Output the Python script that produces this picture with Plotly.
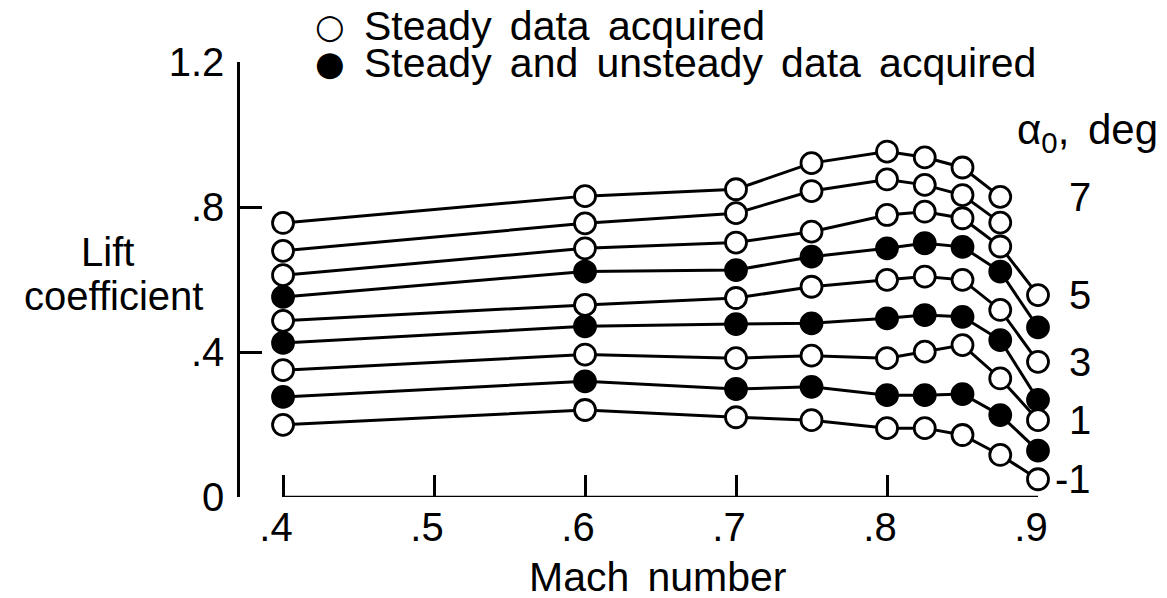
import plotly.graph_objects as go

# ---- data ----
mach = [0.4, 0.6, 0.7, 0.75, 0.8, 0.825, 0.85, 0.875, 0.9]
alphas = [7, 6, 5, 4, 3, 2, 1, 0, -1]
cl_a7 = [0.756, 0.830, 0.849, 0.921, 0.953, 0.937, 0.909, 0.828]
cl_a6 = [0.679, 0.755, 0.783, 0.844, 0.876, 0.861, 0.833, 0.757]
cl_a5 = [0.612, 0.686, 0.702, 0.732, 0.778, 0.787, 0.769, 0.691, 0.557]
cl_a4 = [0.552, 0.622, 0.626, 0.663, 0.686, 0.700, 0.690, 0.622, 0.468]
cl_a3 = [0.486, 0.530, 0.549, 0.580, 0.599, 0.608, 0.599, 0.516, 0.373]
cl_a2 = [0.425, 0.471, 0.477, 0.479, 0.493, 0.502, 0.497, 0.433, 0.268]
cl_a1 = [0.350, 0.393, 0.383, 0.390, 0.383, 0.401, 0.419, 0.327, 0.212]
cl_a0 = [0.276, 0.319, 0.298, 0.304, 0.281, 0.281, 0.284, 0.226, 0.128]
cl_am1 = [0.199, 0.240, 0.220, 0.212, 0.190, 0.190, 0.171, 0.116, 0.049]
cl_series = [cl_a7, cl_a6, cl_a5, cl_a4, cl_a3, cl_a2, cl_a1, cl_a0, cl_am1]
unsteady = [False, False, False, True, False, True, False, True, False]
labeled_alphas = [7, 5, 3, 1, -1]
x_ticks = [0.4, 0.5, 0.6, 0.7, 0.8, 0.9]
x_ticktext = [".4", ".5", ".6", ".7", ".8", ".9"]
y_ticks = [0, 0.4, 0.8, 1.2]
y_ticktext = ["0", ".4", ".8", "1.2"]
legend_texts = ["Steady data acquired", "Steady and unsteady data acquired"]

FONT = "Liberation Sans, Arial, Helvetica, sans-serif"
SYMFONT = "DejaVu Sans, sans-serif"
FS = 40
GAP = " \u2006"  # slightly wider word spacing, as in the reference lettering


def wide(s):
    return GAP.join(s.split(" "))


fig = go.Figure()
for a, cl, filled in zip(alphas, cl_series, unsteady):
    fig.add_trace(go.Scatter(
        x=mach[:len(cl)], y=cl, mode="lines+markers",
        line=dict(color="black", width=3),
        marker=dict(size=21, symbol="circle",
                    color="black" if filled else "white",
                    line=dict(color="black", width=2.8)),
        cliponaxis=False, name=f"{a}", showlegend=False))

# x-axis line spanning only the Mach range (range-frame style)
fig.add_shape(type="line", xref="x", yref="y", x0=x_ticks[0], x1=x_ticks[-1],
              y0=0, y1=0, line=dict(color="black", width=2.5))

annotations = []
# alpha labels at the ends of the labelled curves
for a, cl in zip(alphas, cl_series):
    if a in labeled_alphas:
        annotations.append(dict(x=1.069, xref="paper", y=cl[-1], yref="y",
                                text=str(a), showarrow=False, xanchor="right",
                                yanchor="middle", font=dict(size=FS)))
annotations += [
    dict(x=1.1529, xref="paper", y=0.8368, yref="paper",
         text="α<sub>0</sub>," + GAP + "deg",
         showarrow=False, xanchor="right", yanchor="middle", font=dict(size=42)),
    dict(x=-0.166, xref="paper", y=0.563, yref="paper", text="Lift",
         showarrow=False, xanchor="center", yanchor="middle", font=dict(size=FS)),
    dict(x=-0.159, xref="paper", y=0.462, yref="paper", text="coefficient",
         showarrow=False, xanchor="center", yanchor="middle", font=dict(size=FS)),
    dict(x=0.648, xref="x", y=-0.185, yref="paper", text=wide("Mach number"),
         showarrow=False, xanchor="center", yanchor="middle", font=dict(size=41)),
    # legend
    dict(x=0.1128, xref="paper", y=1.083, yref="paper", text="○",
         showarrow=False, xanchor="center", yanchor="middle",
         font=dict(size=34, family=SYMFONT)),
    dict(x=0.1529, xref="paper", y=1.083, yref="paper", text=wide(legend_texts[0]),
         showarrow=False, xanchor="left", yanchor="middle", font=dict(size=41)),
    dict(x=0.1128, xref="paper", y=0.998, yref="paper", text="●",
         showarrow=False, xanchor="center", yanchor="middle",
         font=dict(size=34, family=SYMFONT)),
    dict(x=0.1529, xref="paper", y=0.998, yref="paper", text=wide(legend_texts[1]),
         showarrow=False, xanchor="left", yanchor="middle", font=dict(size=41)),
]

# page body has an 8px margin, so the figure is 8px smaller than the window
fig.update_layout(
    width=1159, height=590,
    margin=dict(l=232, r=129, t=54, b=101),
    plot_bgcolor="white", paper_bgcolor="white",
    font=dict(family=FONT, color="black", size=FS),
    showlegend=False,
    annotations=annotations,
    xaxis=dict(range=[0.3715, 0.9], showgrid=False, zeroline=False, showline=False,
               ticks="inside", ticklen=22, tickwidth=2.5, tickcolor="black",
               tickvals=x_ticks, ticktext=x_ticktext, tickfont=dict(size=FS),
               ticklabelstandoff=3, ticklabelshift=-7),
    yaxis=dict(range=[0, 1.2], showgrid=False, zeroline=False, showline=True,
               linecolor="black", linewidth=2.5,
               ticks="inside", ticklen=22, tickwidth=2.5, tickcolor="black",
               tickvals=y_ticks, ticktext=y_ticktext, tickfont=dict(size=FS),
               ticklabelstandoff=5),
)

fig.write_html("out.html")
